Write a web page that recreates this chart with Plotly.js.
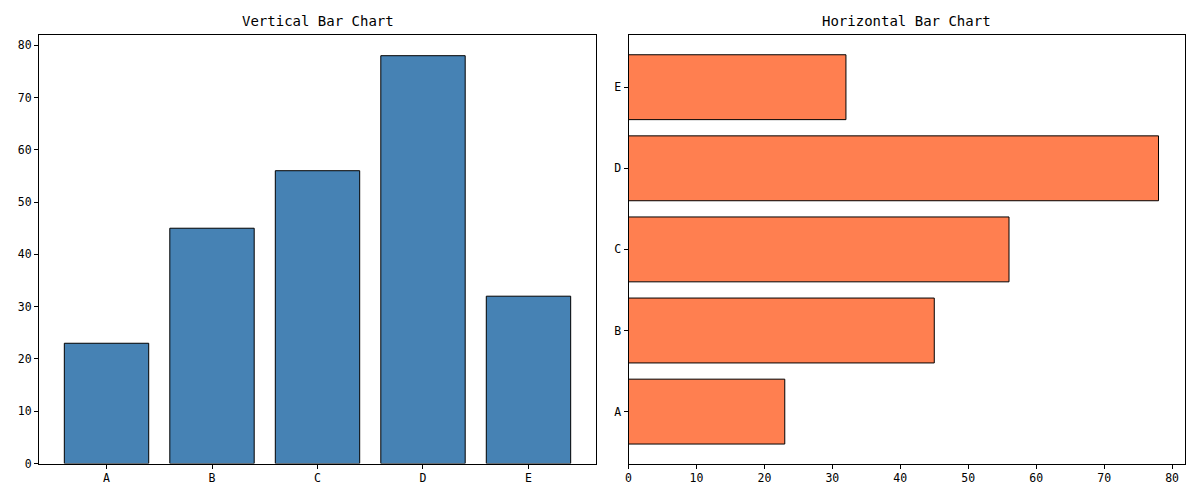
<!DOCTYPE html>
<html>
<head>
<meta charset="utf-8">
<script src="https://cdn.plot.ly/plotly-3.0.1.min.js"></script>
<style>html,body{margin:0;padding:0;background:#fff;}#chart{width:1200px;height:500px;}</style>
</head>
<body>
<div id="chart"></div>
<script>
const categories = ["A", "B", "C", "D", "E"];
const values = [23, 45, 56, 78, 32];
const xTicks = [0, 10, 20, 30, 40, 50, 60, 70, 80];

const FONT = "DejaVu Sans Mono, Liberation Mono, monospace";
const maxV = Math.max(...values) * 1.05;

const traces = [
  {
    type: "bar", x: categories, y: values, xaxis: "x", yaxis: "y",
    width: 0.8,
    marker: {color: "#4682B4", line: {color: "#000", width: 1}},
    hoverinfo: "x+y"
  },
  {
    type: "bar", orientation: "h", x: values, y: categories, xaxis: "x2", yaxis: "y2",
    width: 0.8,
    marker: {color: "#FF7F50", line: {color: "#000", width: 1}},
    hoverinfo: "x+y"
  }
];

const axBase = {
  showline: true, mirror: true, linecolor: "#000", linewidth: 1,
  ticks: "outside", ticklen: 4, tickcolor: "#000", tickwidth: 1,
  showgrid: false, zeroline: false,
  tickfont: {family: FONT, size: 11.5, color: "#000"}
};

const layout = {
  width: 1200, height: 500,
  margin: {l: 0, r: 0, t: 0, b: 0},
  paper_bgcolor: "#fff", plot_bgcolor: "#fff",
  showlegend: false,
  xaxis: Object.assign({}, axBase, {domain: [39/1200, 596/1200], anchor: "y", type: "category", range: [-0.64, 4.64]}),
  yaxis: Object.assign({}, axBase, {domain: [1 - 463.5/500, 1 - 35.3/500], anchor: "x", range: [0, maxV], tickvals: xTicks}),
  xaxis2: Object.assign({}, axBase, {domain: [628.5/1200, 1185/1200], anchor: "y2", range: [0, maxV], tickvals: xTicks}),
  yaxis2: Object.assign({}, axBase, {domain: [1 - 463.5/500, 1 - 35.3/500], anchor: "x2", type: "category", range: [-0.64, 4.64]}),
  annotations: [
    {text: "Vertical Bar Chart", xref: "paper", yref: "paper", x: (39+596)/2/1200, y: 1 - 21/500, xanchor: "center", yanchor: "middle", showarrow: false, font: {family: FONT, size: 14, color: "#000"}},
    {text: "Horizontal Bar Chart", xref: "paper", yref: "paper", x: (628.5+1185)/2/1200, y: 1 - 21/500, xanchor: "center", yanchor: "middle", showarrow: false, font: {family: FONT, size: 14, color: "#000"}}
  ]
};

Plotly.newPlot("chart", traces, layout, {displayModeBar: false, staticPlot: true});
</script>
</body>
</html>
